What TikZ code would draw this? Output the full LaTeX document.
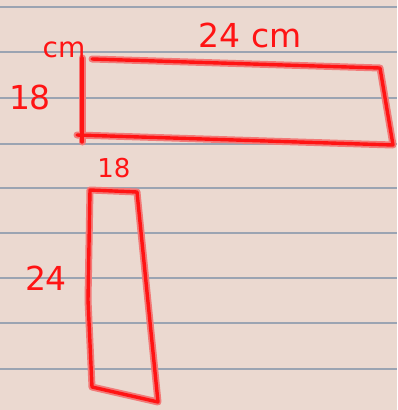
\documentclass[tikz,border=0pt]{standalone}
\usepackage{fontspec}
\setmainfont{DejaVu Sans}
\definecolor{paper}{HTML}{EBD9D0}
\definecolor{rule}{HTML}{9BA4B2}
\definecolor{ink}{HTML}{FF1414}
\definecolor{glow}{HTML}{F27A78}
\tikzset{
  ruleline/.style={draw=rule, line width=1.3pt},
  halo/.style={draw=glow, line width=7pt, line join=round, line cap=round},
  pen/.style={draw=ink, line width=3.4pt, line join=round, line cap=round},
  hand/.style={text=ink, font=\fontsize{33}{33}\selectfont, inner sep=0pt},
}
\begin{document}
\begin{tikzpicture}[x=1pt,y=-1pt]
\fill[paper] (0,0) rectangle (397,410);
\useasboundingbox (0,0) rectangle (397,410);
% ruled lines
\foreach \y in {7,52,98,144,188,233,278,323,369}
  \draw[ruleline] (0,\y) -- (397,\y);
% top rectangle
\coordinate (a1) at (82,58);
\coordinate (a2) at (82,142);
\coordinate (b1) at (92,59);
\coordinate (b2) at (380,68);
\coordinate (b3) at (393,145);
\coordinate (b4) at (77,135);
\foreach \s in {halo,pen}{
  \draw[\s] (a1) -- (a2);
  \draw[\s] (b1) -- (b2) -- (b3) -- (b4);
}
% bottom rectangle
\coordinate (c1) at (90,190);
\coordinate (c2) at (137,192);
\coordinate (c3) at (158,402);
\coordinate (c4) at (92,387);
\coordinate (c5) at (88,300);
\foreach \s in {halo,pen}{
  \draw[\s] (c2) -- (c1) -- (c5) -- (c4) -- (c3) -- cycle;
}
% labels
\node[hand] (t24) at (250,35) {24 cm};
\node[hand, font=\fontsize{28}{28}\selectfont] (tcm) at (64,50) {cm};
\node[hand] (t18a) at (30,97) {18};
\node[hand, font=\fontsize{26}{26}\selectfont] (t18b) at (114,168) {18};
\node[hand] (t24b) at (46,278) {24};
\end{tikzpicture}
\end{document}
